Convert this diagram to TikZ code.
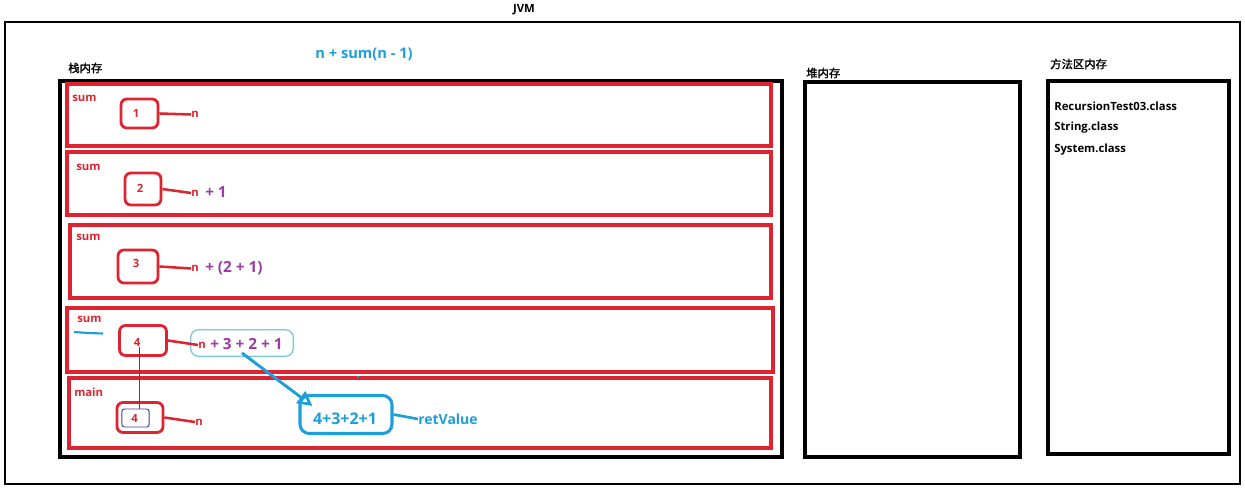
\documentclass[tikz,border=0pt]{standalone}
\usepackage{fontspec}
\setmainfont{Open Sans}
\newfontfamily\cjk{Noto Sans CJK SC}[FakeBold=1.5]
\usetikzlibrary{arrows.meta,calc}
\definecolor{fred}{RGB}{222,36,48}
\definecolor{fpurple}{RGB}{152,62,162}
\definecolor{fblue}{RGB}{30,158,218}
\definecolor{fcyan}{RGB}{125,200,222}
\definecolor{fnavy}{RGB}{64,64,150}
\begin{document}
\begin{tikzpicture}[x=0.75pt,y=-0.75pt,
  txt/.style={font=\bfseries\fontsize{8.5}{10}\selectfont, inner sep=0pt, anchor=west},
  ctxt/.style={font=\cjk\fontsize{8.5}{10}\selectfont, inner sep=0pt, anchor=west},
  rtxt/.style={txt, text=fred},
  ptxt/.style={font=\bfseries\fontsize{11.5}{13}\selectfont, inner sep=0pt, anchor=west, text=fpurple},
  btxt/.style={font=\bfseries\fontsize{10.5}{12}\selectfont, inner sep=0pt, text=fblue},
  blackbox/.style={draw=black, line width=2.3pt},
  redframe/.style={draw=fred, line width=2.3pt},
  valbox/.style={draw=fred, line width=2.1pt, rounded corners=4.5pt, inner sep=0pt},
  redlink/.style={draw=fred, line width=1.9pt},
]
\useasboundingbox (0,0) rectangle (1245,488);
\fill[white] (0,0) rectangle (1245,488);

% JVM outer
\node[txt, anchor=center] (jvm) at (524,10) {JVM};
\draw[draw=black, line width=1.5pt] (5,22) rectangle (1240,484);

% stack memory
\node[ctxt] (stacklbl) at (68,68) {栈内存};
\draw[blackbox] (60,81) rectangle (782,457);
\node[btxt, anchor=center, font=\bfseries\fontsize{11}{12}\selectfont] (formula) at (364,54) {n + sum(n - 1)};

% heap
\node[ctxt] (heaplbl) at (806,73) {堆内存};
\draw[blackbox] (805,82) rectangle (1020,457);

% method area
\node[ctxt] (methlbl) at (1050,64) {方法区内存};
\draw[blackbox] (1048,81) rectangle (1229,454);
\node[txt] (c1) at (1054,106) {RecursionTest03.class};
\node[txt] (c2) at (1054,128) {String.class};
\node[txt] (c3) at (1054,150) {System.class};

% red frames
\draw[redframe] (67,84) rectangle (771,146);
\draw[redframe] (67,152) rectangle (771,215);
\draw[redframe] (70,225) rectangle (771,298);
\draw[redframe] (67,308) rectangle (773,372);
\draw[redframe] (69,378) rectangle (771,448);

\node[rtxt] (s1) at (72,98) {sum};
\node[rtxt] (s2) at (76,167) {sum};
\node[rtxt] (s3) at (76,237) {sum};
\node[rtxt] (s4) at (77,319) {sum};
\node[rtxt] (s5) at (74,392) {main};
\draw[fblue, line width=1.6pt] (74,332) -- (88,333) -- (103,333.5);

% frame 1
\node[valbox, minimum width=27.75pt, minimum height=21.75pt] (b1) at (139.5,113.5) {};
\node[rtxt, anchor=center] (d1) at (136,113) {1};
\node[rtxt] (n1) at (191,114.5) {n};
\draw[redlink] (b1.east) -- (n1.west);

% frame 2
\node[valbox, minimum width=27pt, minimum height=24pt] (b2) at (143,189) {};
\node[rtxt, anchor=center] (d2) at (140,188) {2};
\node[rtxt] (n2) at (191,193) {n};
\node[ptxt] (e2) at (205,192) {+ 1};
\draw[redlink] (b2.east) -- (n2.west);

% frame 3
\node[valbox, minimum width=30pt, minimum height=24.75pt] (b3) at (138,266.5) {};
\node[rtxt, anchor=center] (d3) at (136,263) {3};
\node[rtxt] (n3) at (191,268.5) {n};
\node[ptxt] (e3) at (205,268) {+ (2 + 1)};
\draw[redlink] (b3.east) -- (n3.west);

% frame 4
\node[valbox, minimum width=35.25pt, minimum height=22.5pt] (b4) at (143,340.5) {};
\node[rtxt, anchor=center] (d4) at (137,342) {4};
\node[draw=fcyan, line width=1pt, rounded corners=6pt, minimum width=77pt, minimum height=20pt, inner sep=0pt] (cbox) at (242,343) {};
\node[rtxt] (n4) at (198,345) {n};
\node[ptxt] (e4) at (210,344) {+ 3 + 2 + 1};
\draw[redlink] (b4.east) -- (n4.west);

% frame 5 (main)
\node[valbox, minimum width=34.5pt, minimum height=22.5pt] (b5) at (140,417.5) {};
\node[draw=fnavy, line width=0.7pt, rounded corners=2pt, minimum width=20.5pt, minimum height=13.5pt, inner sep=0pt] (b5i) at (135.5,418) {};
\node[rtxt, anchor=center] (d5) at (134.5,418) {4};
\node[rtxt] (n5) at (195,422) {n};
\draw[redlink] (b5.east) -- (n5.west);
\draw[fnavy, line width=0.7pt] (d4.south) ++(2,1) -- (b5i.north -| 139,409);

% return value
\node[draw=fblue, line width=2.3pt, rounded corners=7pt, minimum width=69pt, minimum height=28.5pt, inner sep=0pt] (rv) at (346,414.5) {};
\node[btxt, font=\bfseries\fontsize{12}{13}\selectfont] (rvt) at (345,419) {4+3+2+1};
\node[btxt, anchor=west] (ret) at (418,419) {retValue};
\draw[fblue, line width=2pt] (rv.east) -- (ret.west);
\draw[fblue, line width=2.2pt, -{Triangle[open, length=11pt, width=11pt, line width=2pt]}] (cbox.south) ++(0,-4) -- ($(rv.north west)+(14,12)$);
\fill[fblue] (358,377) circle (1.3);
\end{tikzpicture}
\end{document}
